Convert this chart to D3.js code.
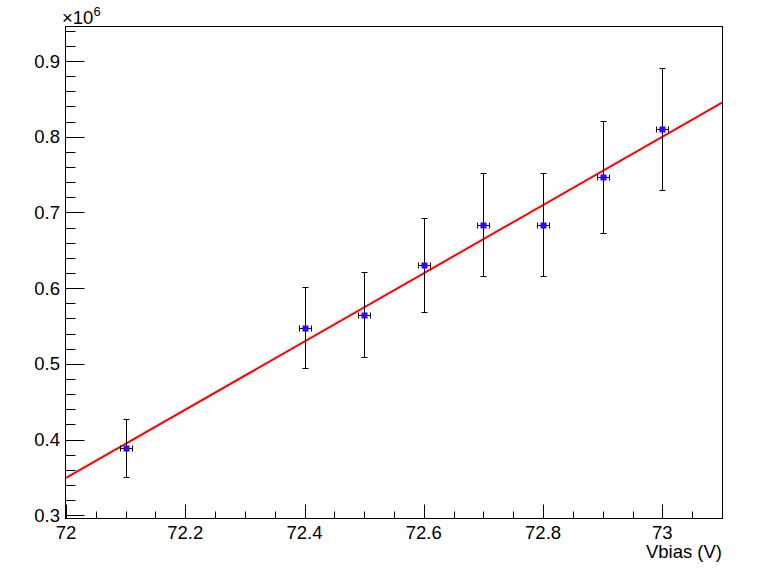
<!DOCTYPE html>
<html>
<head>
<meta charset="utf-8">
<script src="https://cdn.jsdelivr.net/npm/d3@7"></script>
<style>
html,body{margin:0;padding:0;background:#fff;}
svg{display:block;}
text{font-family:"Liberation Sans",Arial,Helvetica,sans-serif;fill:#000;}
</style>
</head>
<body>
<svg id="c" width="764" height="574"></svg>
<script>
// Data (y in units of 1e6)
const vbias   = [72.1, 72.4, 72.5, 72.6, 72.7, 72.8, 72.9, 73.0];
const gain    = [0.389, 0.548, 0.565, 0.630, 0.684, 0.684, 0.747, 0.810];
const gainErr = [0.0385, 0.054, 0.056, 0.062, 0.068, 0.068, 0.074, 0.081];
const vErr    = [0.01, 0.01, 0.01, 0.01, 0.01, 0.01, 0.01, 0.01];
const fitX    = [72.0, 73.1];
const fitY    = [0.3493, 0.845];
const xTicks  = [72, 72.2, 72.4, 72.6, 72.8, 73];
const yTicks  = [0.3, 0.4, 0.5, 0.6, 0.7, 0.8, 0.9];

const svg = d3.select("#c");
const L = 65, R = 722, T = 26, B = 518.5;
const FS = 18.5;
const x = d3.scaleLinear().domain([72, 73.1]).range([L + 1, R]);
const y = d3.scaleLinear().domain([0.3, 0.9]).range([515.3, 61]);

// frame
svg.append("rect").attr("x", L + 0.5).attr("y", T + 0.5)
  .attr("width", R - L).attr("height", B - T - 0.5)
  .attr("fill", "none").attr("stroke", "#000").attr("stroke-width", 1);

// y ticks
const yMinor = d3.range(0.30, 0.9401, 0.02).map(v => +v.toFixed(3));
const yAxis = svg.append("g");
yMinor.forEach(v => {
  const py = Math.round(y(v)) + 0.5;
  if (py < T || py > B) return;
  const major = yTicks.some(t => Math.abs(t - v) < 1e-6);
  yAxis.append("line").attr("x1", L + 0.5).attr("x2", L + 0.5 + (major ? 19 : 10))
    .attr("y1", py).attr("y2", py).attr("stroke", "#000");
});
yTicks.forEach(v => {
  yAxis.append("text").attr("x", 60).attr("y", y(v) + 6.5)
    .attr("text-anchor", "end").attr("font-size", FS).text(d3.format(".1f")(v));
});

// x ticks
const xMinor = d3.range(72.0, 73.1001, 0.05).map(v => +v.toFixed(3));
const xAxis = svg.append("g");
xMinor.forEach(v => {
  const px = Math.round(x(v)) + 0.5;
  const major = xTicks.some(t => Math.abs(t - v) < 1e-6);
  xAxis.append("line").attr("x1", px).attr("x2", px)
    .attr("y1", B).attr("y2", B - (major ? 14 : 7)).attr("stroke", "#000");
});
xTicks.forEach(v => {
  xAxis.append("text").attr("x", x(v)).attr("y", 539)
    .attr("text-anchor", "middle").attr("font-size", FS).text(d3.format("")(v));
});

// exponent label
const ex = svg.append("text").attr("x", 62).attr("y", 24).attr("font-size", FS);
ex.append("tspan").text("\u00d710");
ex.append("tspan").attr("dy", -8).attr("font-size", 13).text("6");

// x title
svg.append("text").attr("x", 722).attr("y", 558).attr("text-anchor", "end")
  .attr("font-size", FS).text("Vbias (V)");

// fit line
const line = d3.line().x(d => x(d[0])).y(d => y(d[1]));
svg.append("path").datum(fitX.map((v, i) => [v, fitY[i]]))
  .attr("d", line).attr("fill", "none").attr("stroke", "#ff0000").attr("stroke-width", 2);

// error bars
const g = svg.append("g").attr("stroke", "#000").attr("stroke-width", 1);
vbias.forEach((v, i) => {
  const px = Math.round(x(v)) + 0.5;
  const py = Math.round(y(gain[i])) + 0.5;
  const yt = Math.round(y(gain[i] + gainErr[i])) + 0.5;
  const yb = Math.round(y(gain[i] - gainErr[i])) + 0.5;
  const xl = Math.round(x(v - vErr[i])) + 0.5;
  const xr = Math.round(x(v + vErr[i])) + 0.5;
  g.append("line").attr("x1", px).attr("x2", px).attr("y1", yt).attr("y2", yb);
  g.append("line").attr("x1", px - 3).attr("x2", px + 3).attr("y1", yt).attr("y2", yt);
  g.append("line").attr("x1", px - 3).attr("x2", px + 3).attr("y1", yb).attr("y2", yb);
  g.append("line").attr("x1", xl).attr("x2", xr).attr("y1", py).attr("y2", py);
  g.append("line").attr("x1", xl).attr("x2", xl).attr("y1", py - 3).attr("y2", py + 3);
  g.append("line").attr("x1", xr).attr("x2", xr).attr("y1", py - 3).attr("y2", py + 3);
});
// markers
svg.append("g").selectAll("rect").data(vbias).join("rect")
  .attr("x", (d) => Math.round(x(d)) + 0.5 - 3)
  .attr("y", (d, i) => Math.round(y(gain[i])) + 0.5 - 3)
  .attr("width", 6).attr("height", 6).attr("fill", "#3300ff");
</script>
</body>
</html>
